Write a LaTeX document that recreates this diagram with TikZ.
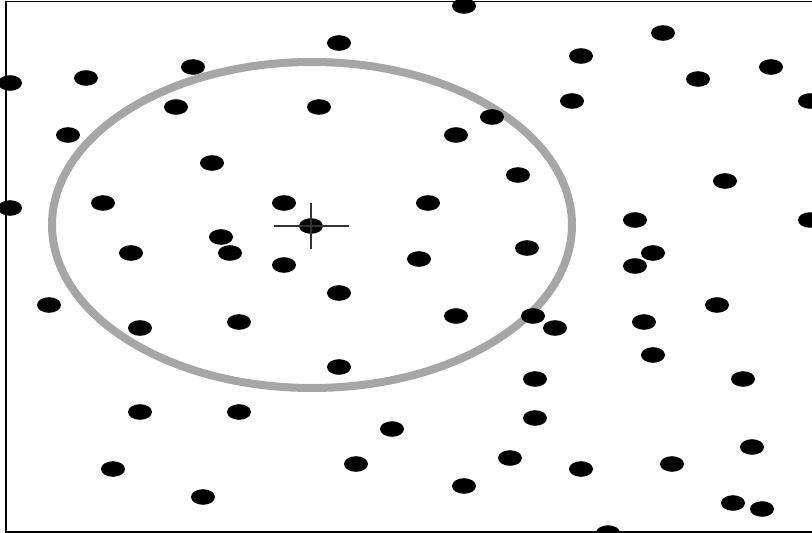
\documentclass[tikz,border=0pt]{standalone}
\begin{document}
\begin{tikzpicture}[x=1pt,y=-1pt,
  dot/.style={fill=black},
  ring/.style={draw=black!35,line width=8pt},
  cross/.style={draw=black!80,line width=2.4pt},
  frame/.style={draw=black,line width=1.8pt}]
\useasboundingbox (0,0) rectangle (812,533);
\clip (0,0) rectangle (812,533);
\fill[white] (0,0) rectangle (812,533);
\draw[frame] (6,1.5) rectangle (830,532);
% ring
\draw[ring] (312,225) ellipse [x radius=260, y radius=163];
% dots
\foreach \px/\py in {
 464/6, 339/43, 663/33, 581/56, 771/67, 10/83, 86/78, 193/67, 698/79, 810/101,
 572/101, 176/107, 319/107, 492/117, 456/135, 68/135, 212/163, 518/175, 725/181,
 10/208, 103/203, 284/203, 428/203, 311/226, 810/220, 635/220, 221/237, 230/253,
 131/253, 284/265, 419/259, 527/248, 653/253, 635/266, 49/305, 339/293, 717/305,
 456/316, 533/316, 555/328, 239/322, 140/328, 644/322, 653/355, 339/367, 535/379,
 743/379, 140/412, 239/412, 535/418, 392/429, 752/447, 113/469, 356/464, 510/458,
 581/469, 672/464, 464/486, 203/497, 733/503, 762/509, 608/533}
  \fill[dot] (\px,\py) ellipse [x radius=12, y radius=7.8];
% crosshair
\coordinate (c) at (311,226);
\draw[cross] ([xshift=-37pt]c) -- ([xshift=38pt]c);
\draw[cross] ([yshift=-23pt]c) -- ([yshift=23pt]c);
\end{tikzpicture}
\end{document}
